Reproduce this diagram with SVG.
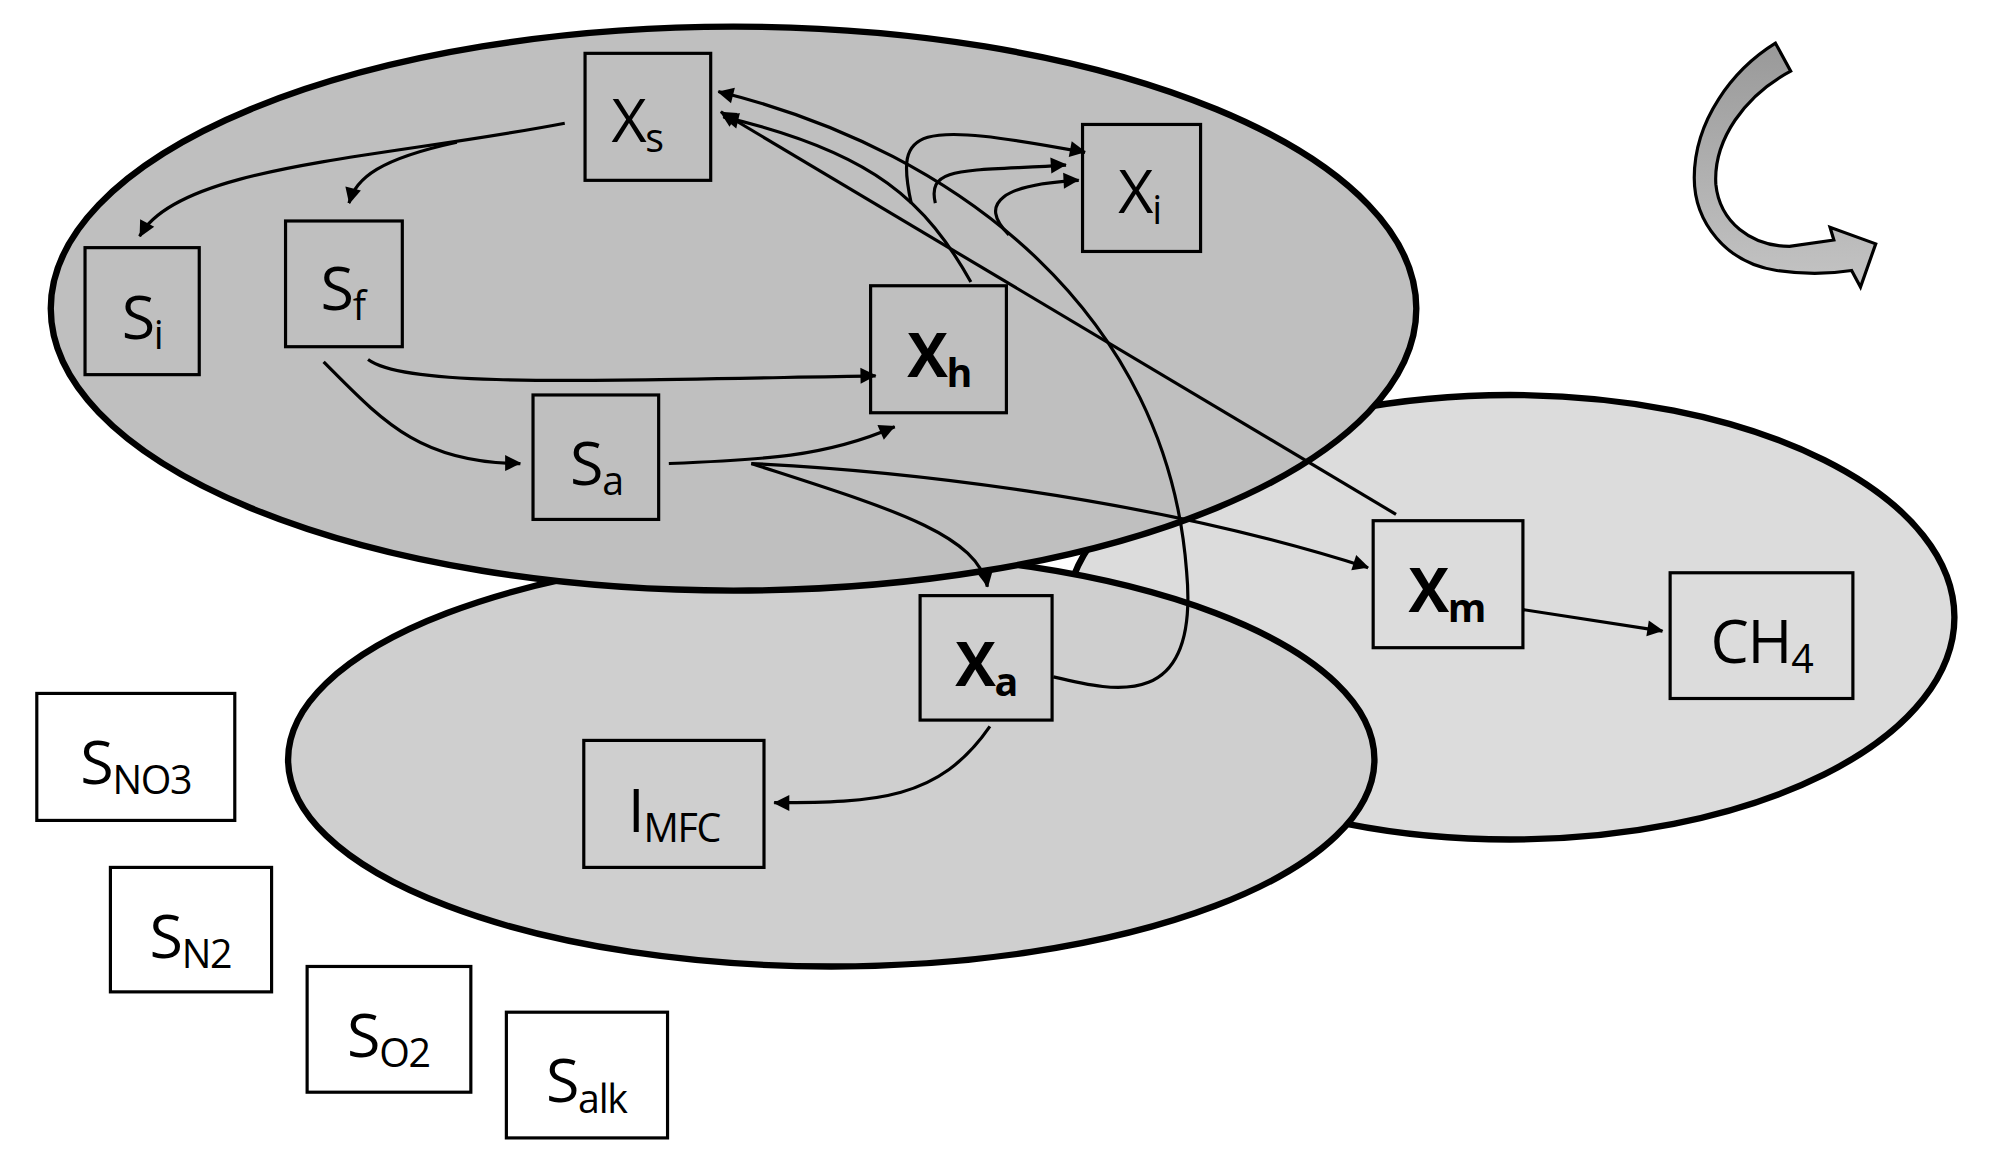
<svg xmlns="http://www.w3.org/2000/svg" width="1990" height="1170" viewBox="0 0 1990 1170">
<style>
.e{stroke:#000;stroke-width:5}
.b{fill:none;stroke:#000;stroke-width:2.5}
.w{fill:#fff;stroke:#000;stroke-width:2.5}
text{font-family:"Open Sans","Liberation Sans",sans-serif;font-size:48px;fill:#000;text-anchor:middle;letter-spacing:-1px}
.s{font-size:31px}
.bd{font-weight:bold}
.c path{fill:none;stroke:#000;stroke-width:2.5;marker-end:url(#a)}
</style>
<defs><marker id="a" viewBox="0 0 10 10" refX="9" refY="5" markerWidth="7" markerHeight="7" orient="auto" markerUnits="userSpaceOnUse" style="overflow:visible"><path d="M0,0 L10,5 L0,10z" fill="#000" transform="scale(1.8) translate(-4.5,-2.5)"/></marker>
<linearGradient id="g" x1="0" y1="0" x2="0" y2="1"><stop offset="0" stop-color="#999"/><stop offset="1" stop-color="#c4c4c4"/></linearGradient></defs>
<rect width="1990" height="1170" fill="#fff"/>
<g transform="scale(1.2691,1.27)">
<ellipse class="e" cx="1190" cy="486" rx="350" ry="175" fill="#dcdcdc"/>
<ellipse class="e" cx="655" cy="598" rx="428" ry="163" fill="#cfcfcf"/>
<ellipse class="e" cx="578" cy="243" rx="538" ry="222" fill="#bfbfbf"/>
<path d="M1399,34 L1411,56 C1375,75 1350,110 1352,145 C1355,175 1380,194 1410,194 L1445,189 L1442,179 L1478,192 L1466,226 L1459,213 C1440,216 1420,216 1400,213 C1360,207 1335,175 1335,140 C1335,95 1365,55 1399,34 Z" fill="url(#g)" stroke="#000" stroke-width="2.5"/>
<g class="c">
<path d="M445,97 C300,125 140,130 110,186"/>
<path d="M360,112 C300,125 280,140 275,160"/>
<path d="M290,283 C320,305 450,300 690,296"/>
<path d="M255,285 C300,330 330,365 410,365"/>
<path d="M527,365 C600,362 650,360 705,336"/>
<path d="M592,365 C700,370 900,390 1078,447"/>
<path d="M592,365 C700,400 770,420 778,462"/>
<path d="M1100,405 L568,88"/>
<path d="M830,533 C880,545 945,560 935,450 C920,250 760,120 566,72"/>
<path d="M765,222 C730,160 690,120 570,92"/>
<path d="M718,160 C705,100 720,95 855,120"/>
<path d="M737,160 C730,130 760,135 840,130"/>
<path d="M795,185 C770,160 790,145 850,142"/>
<path d="M1200,480 L1310,497"/>
<path d="M780,572 C740,630 690,632 610,632"/>
</g>
<g id="Xs"><rect class="b" x="461" y="42" width="99" height="100"/><text x="502" y="112">X<tspan class="s" dy="8">s</tspan></text></g>
<g id="Xi"><rect class="b" x="853" y="98" width="93" height="100"/><text x="898" y="168">X<tspan class="s" dy="8">i</tspan></text></g>
<g id="Si"><rect class="b" x="67" y="195" width="90" height="100"/><text x="112" y="267">S<tspan class="s" dy="8">i</tspan></text></g>
<g id="Sf"><rect class="b" x="225" y="174" width="92" height="99"/><text x="270" y="244">S<tspan class="s" dy="8">f</tspan></text></g>
<g id="Xh"><rect class="b" x="686" y="225" width="107" height="100"/><text class="bd" x="740" y="297">X<tspan class="s bd" dy="8">h</tspan></text></g>
<g id="Sa"><rect class="b" x="420" y="311" width="99" height="98"/><text x="470" y="382">S<tspan class="s" dy="8">a</tspan></text></g>
<g id="Xm"><rect class="b" x="1082" y="410" width="118" height="100"/><text class="bd" x="1140" y="482">X<tspan class="s bd" dy="8">m</tspan></text></g>
<g id="CH4"><rect class="b" x="1316" y="451" width="144" height="99"/><text x="1388" y="522">CH<tspan class="s" dy="8">4</tspan></text></g>
<g id="Xa"><rect class="b" x="725" y="469" width="104" height="98"/><text class="bd" x="777" y="540">X<tspan class="s bd" dy="8">a</tspan></text></g>
<g id="IMFC"><rect class="b" x="460" y="583" width="142" height="100"/><text x="531" y="655">I<tspan class="s" dy="8">MFC</tspan></text></g>
<g id="SNO3"><rect class="w" x="29" y="546" width="156" height="100"/><text x="107" y="617">S<tspan class="s" dy="8">NO3</tspan></text></g>
<g id="SN2"><rect class="w" x="87" y="683" width="127" height="98"/><text x="150" y="754">S<tspan class="s" dy="8">N2</tspan></text></g>
<g id="SO2"><rect class="w" x="242" y="761" width="129" height="99"/><text x="306" y="832">S<tspan class="s" dy="8">O2</tspan></text></g>
<g id="Salk"><rect class="w" x="399" y="797" width="127" height="99"/><text x="462" y="868">S<tspan class="s" dy="8">alk</tspan></text></g>
</g>
</svg>
